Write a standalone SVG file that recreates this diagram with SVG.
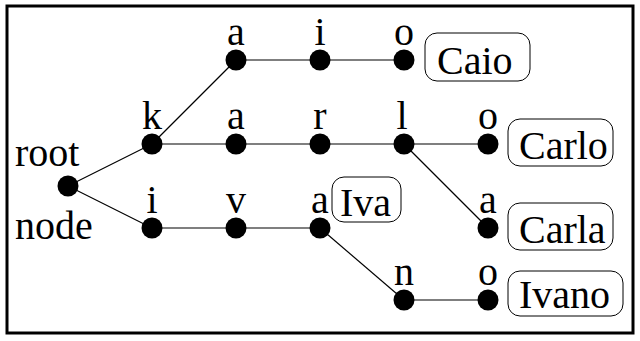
<svg xmlns="http://www.w3.org/2000/svg" width="640" height="341" viewBox="0 0 640 341">
  <style>
    .frame { fill: #fff; stroke: #000; stroke-width: 3; }
    .edge { stroke: #000; stroke-width: 1.2; fill: none; }
    .dot { fill: #000; }
    .lbl { font-family: "Liberation Serif", "Times New Roman", serif; font-size: 40px; fill: #000; }
    .ch { text-anchor: middle; }
    .word rect { fill: #fff; stroke: #000; stroke-width: 1; }
  </style>
  <rect class="frame" x="7" y="6" width="626" height="327"/>

  <!-- trie edges -->
  <g id="connectors">
    <line class="edge" x1="68" y1="186" x2="152" y2="144"/>
    <line class="edge" x1="68" y1="186" x2="152" y2="228"/>
    <line class="edge" x1="152" y1="144" x2="236" y2="60"/>
    <line class="edge" x1="236" y1="60" x2="404" y2="60"/>
    <line class="edge" x1="152" y1="144" x2="488" y2="144"/>
    <line class="edge" x1="404" y1="144" x2="488" y2="228"/>
    <line class="edge" x1="152" y1="228" x2="320" y2="228"/>
    <line class="edge" x1="320" y1="228" x2="404" y2="300"/>
    <line class="edge" x1="404" y1="300" x2="488" y2="300"/>
  </g>

  <!-- root -->
  <g id="root">
    <circle class="dot" cx="68" cy="186" r="10.5"/>
    <text class="lbl" x="15" y="166">root</text>
    <text class="lbl" x="15" y="239">node</text>
  </g>

  <!-- branch k-a-i-o / k-a-r-l-o / k-a-r-l-a -->
  <g id="n-k"><circle class="dot" cx="152" cy="144" r="10.5"/><text class="lbl ch" x="152" y="129">k</text></g>
  <g id="n-ka"><circle class="dot" cx="236" cy="60" r="10.5"/><text class="lbl ch" x="236" y="45">a</text></g>
  <g id="n-kai"><circle class="dot" cx="320" cy="60" r="10.5"/><text class="lbl ch" x="320" y="45">i</text></g>
  <g id="n-kaio"><circle class="dot" cx="404" cy="60" r="10.5"/><text class="lbl ch" x="404" y="45">o</text></g>
  <g id="n-kar-a"><circle class="dot" cx="236" cy="144" r="10.5"/><text class="lbl ch" x="236" y="129">a</text></g>
  <g id="n-kar"><circle class="dot" cx="320" cy="144" r="10.5"/><text class="lbl ch" x="320" y="129">r</text></g>
  <g id="n-karl"><circle class="dot" cx="404" cy="144" r="10.5"/><text class="lbl ch" x="402" y="129">l</text></g>
  <g id="n-karlo"><circle class="dot" cx="488" cy="144" r="10.5"/><text class="lbl ch" x="488" y="129">o</text></g>
  <g id="n-karla"><circle class="dot" cx="488" cy="228" r="10.5"/><text class="lbl ch" x="488" y="213">a</text></g>

  <!-- branch i-v-a / i-v-a-n-o -->
  <g id="n-i"><circle class="dot" cx="152" cy="228" r="10.5"/><text class="lbl ch" x="152" y="213">i</text></g>
  <g id="n-iv"><circle class="dot" cx="236" cy="228" r="10.5"/><text class="lbl ch" x="236" y="213">v</text></g>
  <g id="n-iva"><circle class="dot" cx="320" cy="228" r="10.5"/><text class="lbl ch" x="320" y="213">a</text></g>
  <g id="n-ivan"><circle class="dot" cx="404" cy="300" r="10.5"/><text class="lbl ch" x="404" y="285">n</text></g>
  <g id="n-ivano"><circle class="dot" cx="488" cy="300" r="10.5"/><text class="lbl ch" x="488" y="285">o</text></g>

  <!-- stored words -->
  <g id="w-caio" class="word"><rect x="425" y="33" width="105" height="48" rx="12"/><text class="lbl" x="437" y="74">Caio</text></g>
  <g id="w-carlo" class="word"><rect x="508" y="119" width="105" height="47" rx="12"/><text class="lbl" x="519" y="159">Carlo</text></g>
  <g id="w-iva" class="word"><rect x="332" y="177" width="69" height="45" rx="12"/><text class="lbl" x="340" y="216">Iva</text></g>
  <g id="w-carla" class="word"><rect x="508" y="203" width="105" height="47" rx="12"/><text class="lbl" x="519" y="243">Carla</text></g>
  <g id="w-ivano" class="word"><rect x="508" y="271" width="115" height="45" rx="12"/><text class="lbl" x="519" y="308">Ivano</text></g>
</svg>
